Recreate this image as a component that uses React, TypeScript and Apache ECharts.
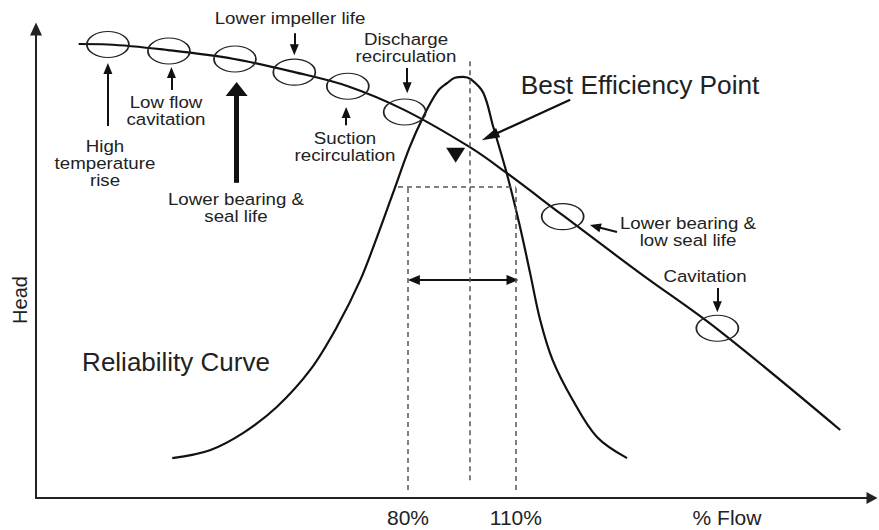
import React, { useEffect, useRef } from 'react';
import * as echarts from 'echarts';

// Pump head curve (abstract flow units 0-100 on x, head 0-100 on y)
const headFlow = [5.1, 8.6, 15.8, 23.7, 30.9, 37.3, 44.1, 51.9, 56.3, 63.0, 72.2, 81.5, 96.2];
const headValue = [96.8, 96.7, 95.5, 93.6, 90.8, 87.8, 82.7, 74.8, 69.3, 60.3, 48.0, 36.0, 14.5];

// Reliability (bell) curve
const reliabilityFlow = [16.3, 20.8, 24.8, 28.8, 32.8, 36.0, 38.8, 40.8, 42.7, 44.7, 46.3, 48.0, 49.2, 50.1, 51.1, 52.0, 53.5, 54.7, 56.3, 57.9, 59.1, 60.3, 61.8, 64.2, 67.1, 70.7];
const reliabilityValue = [8.5, 10.2, 13.9, 19.4, 27.3, 36.5, 46.5, 55.7, 65.0, 74.8, 81.2, 86.6, 88.5, 89.6, 89.8, 89.3, 86.4, 79.1, 69.3, 57.8, 48.0, 38.0, 29.4, 20.9, 13.0, 8.5];

// Problem zones circled on the head curve
const zoneFlow = [8.6, 15.9, 23.8, 30.9, 37.3, 44.1, 63.0, 81.5];
const zoneHead = [96.7, 95.3, 93.6, 90.8, 87.8, 82.3, 60.0, 36.2];

// Best efficiency point marker
const bepFlow = [50.2];
const bepHead = [73.1];

// Flow tick marks
const flowTickValues = [44.5, 57.4];
const flowTickLabels = ['80%', '110%'];

// Operating window
const windowLow = 44.5;
const windowHigh = 57.4;
const bepLine = 51.9;

const FONT = "'Liberation Sans', Arial, Helvetica, sans-serif";
const TEXT = '#222';
const INK = '#111';
const ELLIPSE = 'path://M0,13A21,13,0,1,1,42,13A21,13,0,1,1,0,13Z';

const zip = (xs: number[], ys: number[]) => xs.map((x, i) => [x, ys[i]]);

const smallText = (text: string, x: number, y: number) => ({
  type: 'text',
  x,
  y,
  scaleX: 1.1,
  silent: true,
  style: {
    text,
    fontSize: 17,
    fontFamily: FONT,
    fill: TEXT,
    align: 'center',
    verticalAlign: 'middle',
    lineHeight: 17,
  },
});

export default function App() {
  const ref = useRef<HTMLDivElement>(null);

  useEffect(() => {
    if (!ref.current) return;
    const chart = echarts.init(ref.current, null, { renderer: 'svg' });

    const arrowLine = (from: number[], to: number[], extra: any = {}, endExtra: any = {}) => [
      { coord: from, ...extra },
      { coord: to, ...endExtra },
    ];

    const option: any = {
      animation: false,
      backgroundColor: '#fff',
      grid: { left: 36, right: 7, top: 29, bottom: 32, containLabel: false, outerBoundsMode: 'none' },
      xAxis: {
        type: 'value',
        min: 0,
        max: 100,
        axisLine: {
          show: true,
          onZero: false,
          symbol: ['none', 'triangle'],
          symbolSize: [12, 11],
          lineStyle: { color: '#222', width: 2 },
        },
        axisTick: { show: false },
        splitLine: { show: false },
        axisLabel: {
          show: true,
          customValues: flowTickValues,
          formatter: (v: number) => {
            let best = 0;
            flowTickValues.forEach((t, i) => {
              if (Math.abs(t - v) < Math.abs(flowTickValues[best] - v)) best = i;
            });
            return flowTickLabels[best];
          },
          fontSize: 21,
          fontFamily: FONT,
          color: TEXT,
          margin: 9,
        },
      },
      yAxis: {
        type: 'value',
        min: 0,
        max: 100,
        axisLine: {
          show: true,
          onZero: false,
          symbol: ['none', 'triangle'],
          symbolSize: [12, 13],
          lineStyle: { color: '#222', width: 2 },
        },
        axisTick: { show: false },
        splitLine: { show: false },
        axisLabel: { show: false },
      },
      series: [
        {
          type: 'line',
          name: 'Head',
          data: zip(headFlow, headValue),
          smooth: 0.35,
          symbol: 'none',
          lineStyle: { color: INK, width: 2.2 },
          z: 3,
          silent: true,
          markLine: {
            silent: true,
            symbol: ['none', 'triangle'],
            symbolSize: [9, 11],
            label: { show: false },
            emphasis: { disabled: true },
            lineStyle: { type: 'solid', color: INK, width: 2 },
            data: [
              arrowLine([8.6, 79.3], [8.6, 91.6]),
              arrowLine([16.2, 87.0], [16.2, 90.7]),
              arrowLine([24.0, 67.2], [24.0, 87.2], { lineStyle: { width: 5, color: INK, type: 'solid' } }, { symbolSize: [22, 14] }),
              arrowLine([30.9, 99.1], [30.9, 95.6]),
              arrowLine([37.1, 79.5], [37.1, 82.2]),
              arrowLine([44.4, 91.7], [44.4, 87.5]),
              arrowLine([63.9, 84.9], [54.3, 77.1], { lineStyle: { width: 2.2, color: INK, type: 'solid' } }, { symbolSize: [10, 18] }),
              arrowLine([69.5, 56.7], [66.9, 57.9]),
              arrowLine([81.5, 44.8], [81.5, 40.8]),
              arrowLine([45.2, 46.5], [57.0, 46.5], { symbol: 'triangle', symbolSize: [10, 12], lineStyle: { width: 2.2, color: INK, type: 'solid' } }, { symbolSize: [10, 12] }),
            ],
          },
        },
        {
          type: 'line',
          name: 'Reliability',
          data: zip(reliabilityFlow, reliabilityValue),
          smooth: 0.35,
          symbol: 'none',
          lineStyle: { color: INK, width: 2.2 },
          z: 3,
          silent: true,
          markLine: {
            silent: true,
            symbol: 'none',
            label: { show: false },
            emphasis: { disabled: true },
            lineStyle: { type: [5, 4], color: '#555', width: 1.5 },
            data: [
              [{ coord: [windowLow, 1.7] }, { coord: [windowLow, 66.3] }],
              [{ coord: [windowHigh, 1.7] }, { coord: [windowHigh, 66.3] }],
              [{ coord: [bepLine, 3.8] }, { coord: [bepLine, 93.4] }],
              [{ coord: [43.3, 66.3] }, { coord: [windowHigh, 66.3] }],
            ],
          },
        },
        {
          type: 'scatter',
          name: 'Zones',
          data: zip(zoneFlow, zoneHead),
          symbol: ELLIPSE,
          symbolSize: [42, 26],
          silent: true,
          itemStyle: { color: 'rgba(0,0,0,0)', borderColor: '#222', borderWidth: 1.4, opacity: 1 },
          z: 4,
        },
        {
          type: 'scatter',
          name: 'BEP',
          data: zip(bepFlow, bepHead),
          symbol: 'triangle',
          symbolRotate: 180,
          symbolSize: [19, 15],
          silent: true,
          itemStyle: { color: INK, opacity: 1 },
          z: 4,
        },
      ],
      graphic: [
        smallText('Lower impeller life', 290, 18),
        smallText('Discharge\nrecirculation', 406, 48),
        smallText('Suction\nrecirculation', 345, 147),
        smallText('Low flow\ncavitation', 166, 111),
        smallText('High\ntemperature\nrise', 105, 163),
        smallText('Lower bearing &\nseal life', 236, 208),
        smallText('Lower bearing &\nlow seal life', 688, 232),
        smallText('Cavitation', 705, 276),
        {
          type: 'text',
          x: 640,
          y: 85,
          scaleX: 1.05,
          silent: true,
          style: { text: 'Best Efficiency Point', fontSize: 25, fontFamily: FONT, fill: TEXT, align: 'center', verticalAlign: 'middle' },
        },
        {
          type: 'text',
          x: 176,
          y: 362,
          scaleX: 1.04,
          silent: true,
          style: { text: 'Reliability Curve', fontSize: 25, fontFamily: FONT, fill: TEXT, align: 'center', verticalAlign: 'middle' },
        },
        {
          type: 'text',
          x: 727,
          y: 517,
          silent: true,
          style: { text: '% Flow', fontSize: 21, fontFamily: FONT, fill: TEXT, align: 'center', verticalAlign: 'middle' },
        },
        {
          type: 'text',
          x: 20,
          y: 300,
          rotation: Math.PI / 2,
          silent: true,
          style: { text: 'Head', fontSize: 20, fontFamily: FONT, fill: TEXT, align: 'center', verticalAlign: 'middle' },
        },
      ],
    };

    chart.setOption(option);
    return () => chart.dispose();
  }, []);

  return (
    <div
      ref={ref}
      style={{ position: 'fixed', left: 0, top: 0, width: 879, height: 530, background: '#fff' }}
    />
  );
}
